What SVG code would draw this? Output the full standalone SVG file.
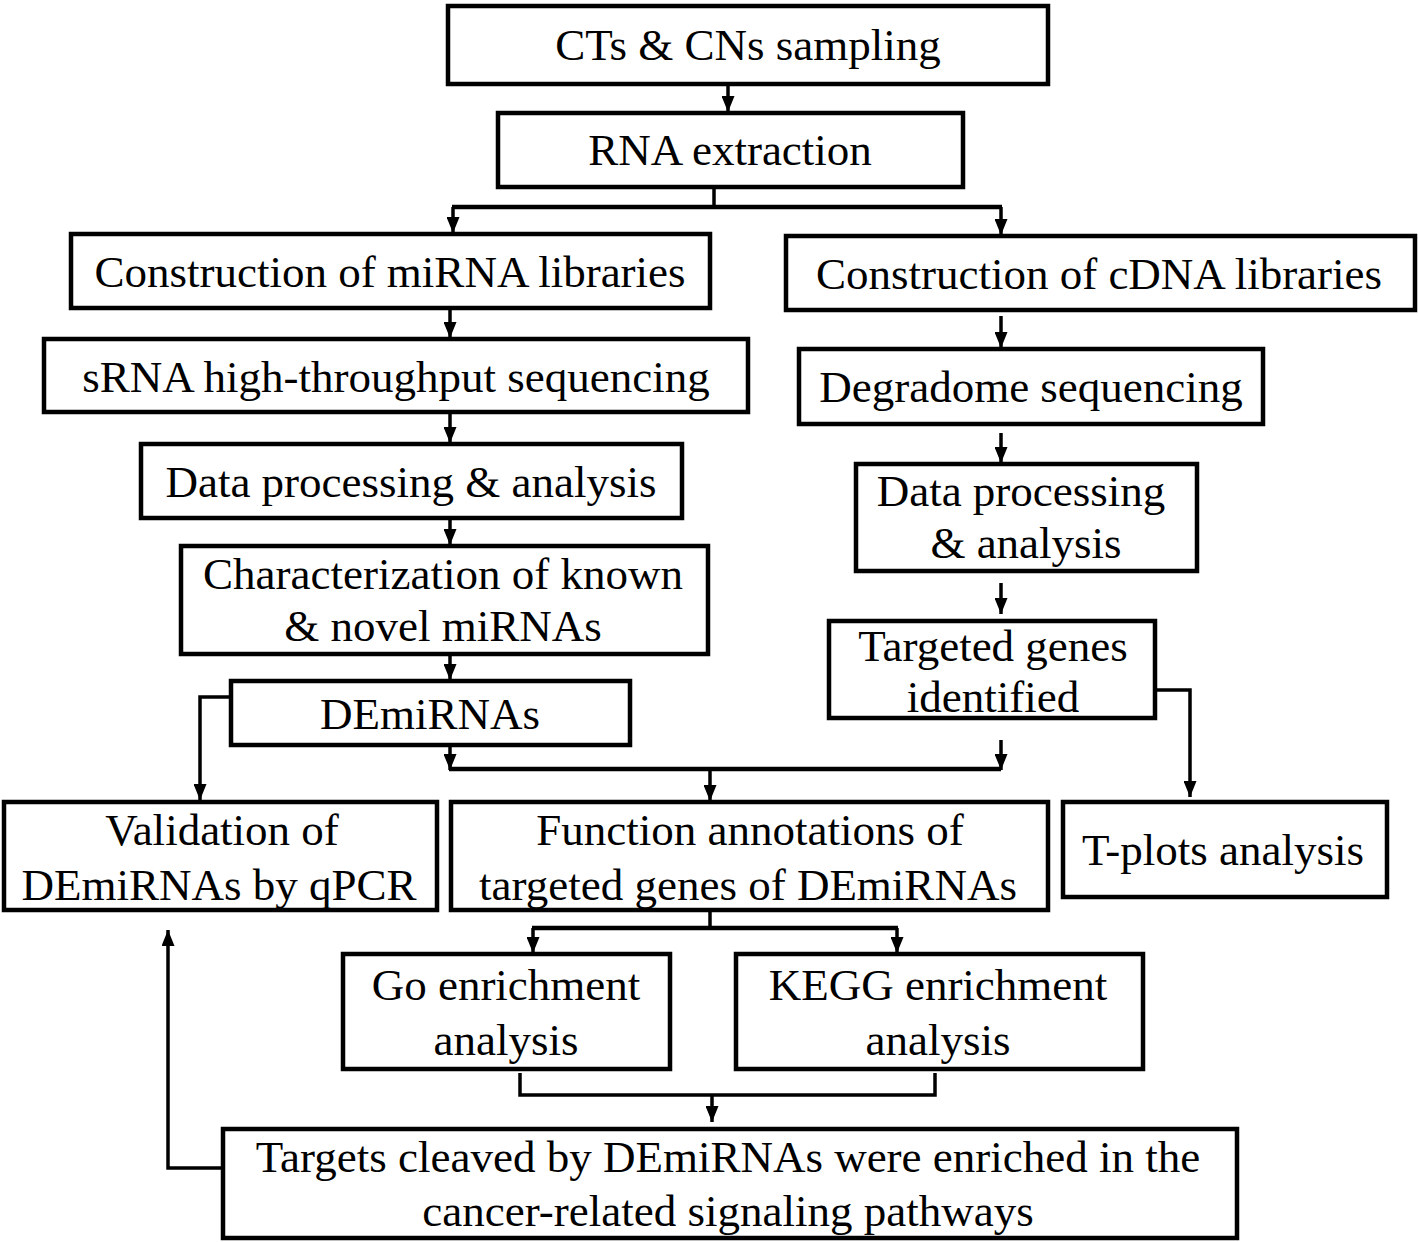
<svg xmlns="http://www.w3.org/2000/svg" width="1418" height="1242" viewBox="0 0 1418 1242">
<style>
.box{fill:#fff;stroke:#000;stroke-width:4.5}
.t{font-family:"Liberation Serif","Times New Roman",serif;font-size:45px;fill:#000;text-anchor:middle}
.c{fill:none;stroke:#000;stroke-width:3.5}
.h{stroke-width:4.5}
</style>
<defs>
<marker id="a" markerUnits="userSpaceOnUse" markerWidth="16" markerHeight="13" refX="16" refY="6.5" orient="auto" viewBox="0 0 16 13">
<path d="M0,0 L16,6.5 L0,13 Z" fill="#000"/>
</marker>
</defs>
<rect width="1418" height="1242" fill="#fff"/>
<g id="connectors">
<path class="c" d="M728,84 V112" marker-end="url(#a)"/>
<path class="c" d="M714,187 V207"/>
<path class="c h" d="M452,207 H1002"/>
<path class="c" d="M453,207 V233" marker-end="url(#a)"/>
<path class="c" d="M1001,207 V235" marker-end="url(#a)"/>
<path class="c" d="M450,308 V338" marker-end="url(#a)"/>
<path class="c" d="M1001,316 V348" marker-end="url(#a)"/>
<path class="c" d="M450,412 V443" marker-end="url(#a)"/>
<path class="c" d="M1001,433 V463" marker-end="url(#a)"/>
<path class="c" d="M450,518 V545" marker-end="url(#a)"/>
<path class="c" d="M1001,583 V614" marker-end="url(#a)"/>
<path class="c" d="M450,654 V680" marker-end="url(#a)"/>
<path class="c" d="M230,697 H200 V800" marker-end="url(#a)"/>
<path class="c" d="M450,742 V770" marker-end="url(#a)"/>
<path class="c" d="M1001,740 V770" marker-end="url(#a)"/>
<path class="c h" d="M449,769 H1001"/>
<path class="c" d="M710,769 V801" marker-end="url(#a)"/>
<path class="c" d="M1155,690 H1190 V797" marker-end="url(#a)"/>
<path class="c" d="M710,910 V928"/>
<path class="c h" d="M532,928 H898"/>
<path class="c" d="M533,928 V953" marker-end="url(#a)"/>
<path class="c" d="M897,928 V953" marker-end="url(#a)"/>
<path class="c" d="M520,1073 V1095 H935 V1073"/>
<path class="c" d="M712,1095 V1122" marker-end="url(#a)"/>
<path class="c" d="M222,1168 H168 V930" marker-end="url(#a)"/>
</g>
<g id="n1"><rect class="box" x="448" y="6" width="600" height="78"/><text class="t" x="748" y="60">CTs &amp; CNs sampling</text></g>
<g id="n2"><rect class="box" x="498" y="113" width="465" height="74"/><text class="t" x="730" y="165">RNA extraction</text></g>
<g id="n3"><rect class="box" x="71" y="234" width="639" height="74"/><text class="t" x="390" y="287">Construction of miRNA libraries</text></g>
<g id="n4"><rect class="box" x="786" y="236" width="629" height="74"/><text class="t" x="1099" y="289">Construction of cDNA libraries</text></g>
<g id="n5"><rect class="box" x="44" y="339" width="704" height="73"/><text class="t" x="396" y="392">sRNA high-throughput sequencing</text></g>
<g id="n6"><rect class="box" x="799" y="349" width="464" height="75"/><text class="t" x="1031" y="402">Degradome sequencing</text></g>
<g id="n7"><rect class="box" x="141" y="444" width="541" height="74"/><text class="t" x="411" y="497">Data processing &amp; analysis</text></g>
<g id="n8"><rect class="box" x="856" y="464" width="341" height="107"/><text class="t" x="1021" y="506">Data processing</text><text class="t" x="1026" y="558">&amp; analysis</text></g>
<g id="n9"><rect class="box" x="181" y="546" width="527" height="108"/><text class="t" x="443" y="589">Characterization of known</text><text class="t" x="443" y="641">&amp; novel miRNAs</text></g>
<g id="n10"><rect class="box" x="829" y="621" width="326" height="97"/><text class="t" x="993" y="661">Targeted genes</text><text class="t" x="993" y="712">identified</text></g>
<g id="n11"><rect class="box" x="231" y="681" width="399" height="64"/><text class="t" x="430" y="729">DEmiRNAs</text></g>
<g id="n12"><rect class="box" x="4" y="802" width="433" height="108"/><text class="t" x="222" y="845">Validation of</text><text class="t" x="219" y="900">DEmiRNAs by qPCR</text></g>
<g id="n13"><rect class="box" x="451" y="802" width="597" height="108"/><text class="t" x="750" y="845">Function annotations of</text><text class="t" x="748" y="900">targeted genes of DEmiRNAs</text></g>
<g id="n14"><rect class="box" x="1063" y="802" width="324" height="95"/><text class="t" x="1223" y="865">T-plots analysis</text></g>
<g id="n15"><rect class="box" x="343" y="954" width="327" height="115"/><text class="t" x="506" y="1000">Go enrichment</text><text class="t" x="506" y="1055">analysis</text></g>
<g id="n16"><rect class="box" x="736" y="954" width="407" height="115"/><text class="t" x="938" y="1000">KEGG enrichment</text><text class="t" x="938" y="1055">analysis</text></g>
<g id="n17"><rect class="box" x="223" y="1129" width="1014" height="109"/><text class="t" x="728" y="1172">Targets cleaved by DEmiRNAs were enriched in the</text><text class="t" x="728" y="1226">cancer-related signaling pathways</text></g>
</svg>
